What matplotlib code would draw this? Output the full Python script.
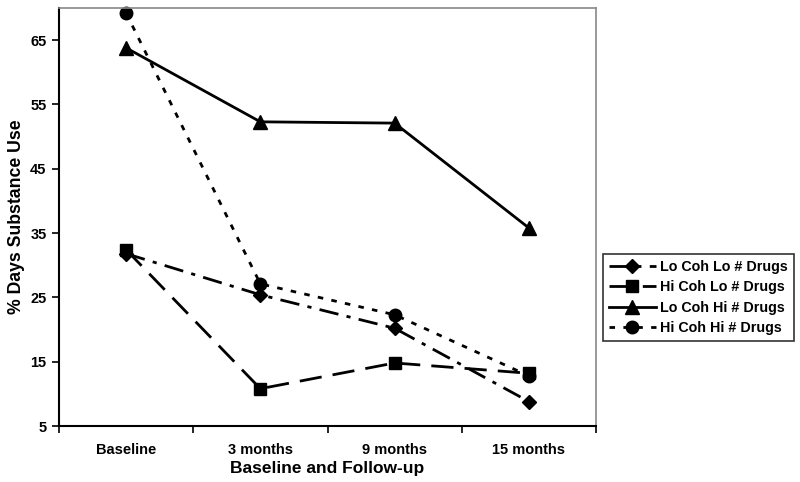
import matplotlib
matplotlib.use("Agg")
import matplotlib.pyplot as plt

plt.rcParams['font.family'] = ['Liberation Sans', 'DejaVu Sans']

categories = ["Baseline", "3 months", "9 months", "15 months"]
series_names = ["Lo Coh Lo # Drugs", "Hi Coh Lo # Drugs", "Lo Coh Hi # Drugs", "Hi Coh Hi # Drugs"]
lo_coh_lo = [31.8, 25.4, 20.2, 8.8]
hi_coh_lo = [32.4, 10.8, 14.8, 13.2]
lo_coh_hi = [63.8, 52.3, 52.1, 35.8]
hi_coh_hi = [69.2, 27.1, 22.3, 12.8]
y_ticks = [5, 15, 25, 35, 45, 55, 65]

fig = plt.figure(figsize=(8, 4.82), dpi=100)
ax = fig.add_axes([59/800, 1-426/482, (596-59)/800, (426-8)/482])

x = list(range(len(categories)))
styles = [
    dict(marker='D', ms=7, linestyle=(0, (7, 3, 1.5, 3))),
    dict(marker='s', ms=9, linestyle=(0, (8, 4))),
    dict(marker='^', ms=10, linestyle='-'),
    dict(marker='o', ms=9, linestyle=(0, (2, 3))),
]
for vals, name, st in zip([lo_coh_lo, hi_coh_lo, lo_coh_hi, hi_coh_hi], series_names, styles):
    ax.plot(x, vals, color='black', lw=2, marker=st['marker'], ms=st['ms'],
            linestyle=st['linestyle'], label=name, clip_on=False)

ax.set_xlim(-0.5, 3.5)
ax.set_ylim(5, 70)
ax.set_yticks(y_ticks)
ax.set_yticklabels([str(t) for t in y_ticks], fontsize=10.5, fontweight='bold')
ax.set_xticks([-0.5, 0.5, 1.5, 2.5, 3.5])
ax.set_xticklabels([])
ax.set_xticks(x, minor=True)
ax.set_xticklabels(categories, minor=True, fontsize=10.5, fontweight='bold')
ax.tick_params(axis='x', which='minor', length=0, pad=12)
ax.tick_params(axis='x', which='major', length=5, width=1.2, direction='out', color='black')
ax.tick_params(axis='y', length=5, width=1.2, direction='out', pad=4)

for s in ['left', 'bottom']:
    ax.spines[s].set_color('black')
    ax.spines[s].set_linewidth(1.5)
for s in ['top', 'right']:
    ax.spines[s].set_color('#888888')
    ax.spines[s].set_linewidth(1.2)

ax.set_xlabel("Baseline and Follow-up", fontsize=12.5, fontweight='bold', labelpad=3)
ax.set_ylabel("% Days Substance Use", fontsize=12.7, fontweight='bold', labelpad=4)

leg = fig.legend(loc='upper left', bbox_to_anchor=(603/800, 1-254/482),
                 prop={'size': 10.3, 'weight': 'bold'}, frameon=True, fancybox=False,
                 edgecolor='black', handlelength=3.3, borderpad=0.4, labelspacing=0.45,
                 handletextpad=0.3, borderaxespad=0)
leg.get_frame().set_linewidth(1.2)

fig.savefig("out.png", dpi=100)
